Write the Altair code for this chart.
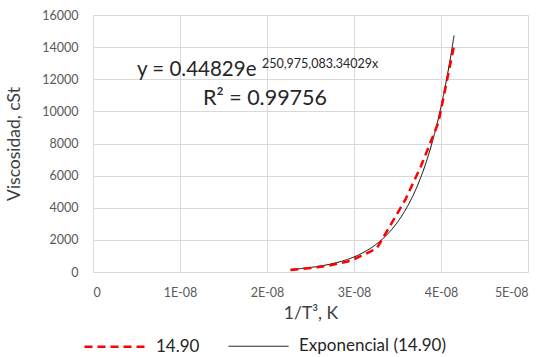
import altair as alt
import pandas as pd

inv_t3 = [2.27e-8, 2.47e-8, 2.70e-8, 2.96e-8, 3.26e-8, 3.59e-8, 3.77e-8, 3.97e-8, 4.15e-8]
visc = [130, 230, 380, 700, 1450, 4500, 6600, 9300, 14100]
series_data = "14.90"
series_trend = "Exponencial (14.90)"
x_ticks = [0, 1e-8, 2e-8, 3e-8, 4e-8, 5e-8]
y_ticks = [0, 2000, 4000, 6000, 8000, 10000, 12000, 14000, 16000]

df = pd.DataFrame({"x": inv_t3, "y": visc, "series": series_data})

FONT = "Lato"
color_scale = alt.Scale(domain=[series_data, series_trend], range=["#ff0000", "#000000"])
dash_scale = alt.Scale(domain=[series_data, series_trend], range=[[8, 5], [1, 0]])
width_scale = alt.Scale(domain=[series_data, series_trend], range=[2.5, 1])

xenc = alt.X("x:Q", scale=alt.Scale(domain=[0, 5e-8], nice=False),
             axis=alt.Axis(values=x_ticks, title="1/T³, K", labelOverlap=False,
                           labelExpr="datum.value == 0 ? '0' : upper(replace(format(datum.value, '.0e'), 'e-', 'E-0'))"))
yenc = alt.Y("y:Q", scale=alt.Scale(domain=[0, 16000], nice=False),
             axis=alt.Axis(values=y_ticks, format="d", title="Viscosidad, cSt", labelOverlap=False))

legend = alt.Legend(title=None, orient="none", legendX=-10, legendY=300, direction="horizontal",
                    symbolType="stroke", symbolSize=3600, labelFontSize=17, labelColor="#262626",
                    labelFont=FONT, columnPadding=26, labelOffset=10, symbolStrokeWidth=2.5)

enc = dict(
    x=xenc, y=yenc,
    color=alt.Color("series:N", scale=color_scale, legend=legend),
    strokeDash=alt.StrokeDash("series:N", scale=dash_scale, legend=legend),
    strokeWidth=alt.StrokeWidth("series:N", scale=width_scale, legend=legend),
)

line = alt.Chart(df).mark_line().encode(**enc)

trend = alt.Chart(df).transform_regression("x", "y", method="exp").transform_calculate(
    series=f"'{series_trend}'"
).mark_line().encode(**enc)

eq_main = alt.Chart().mark_text(align="left", baseline="alphabetic", fontSize=20.5, font=FONT,
                                color="#262626", text="y = 0.44829e").encode(
    x=alt.value(44), y=alt.value(61))
eq_sup = alt.Chart().mark_text(align="left", baseline="alphabetic", fontSize=12.5, font=FONT,
                               color="#262626", text="250,975,083.34029x").encode(
    x=alt.value(169), y=alt.value(53))
eq_r2 = alt.Chart().mark_text(align="left", baseline="alphabetic", fontSize=21.5, font=FONT,
                              color="#262626", text="R² = 0.99756").encode(
    x=alt.value(110), y=alt.value(90))

chart = alt.layer(trend, line, eq_main, eq_sup, eq_r2).properties(
    width=435, height=257,
    autosize=alt.AutoSizeParams(type="none"),
    padding={"left": 93, "top": 15, "right": 19, "bottom": 85},
).configure_view(stroke=None).configure_axis(
    grid=True, gridColor="#d9d9d9", domainColor="#d9d9d9", ticks=False,
    labelFont=FONT, labelFontSize=12.5, labelColor="#595959",
    titleFont=FONT, titleFontSize=17.5, titleFontWeight="normal", titleColor="#404040",
).configure_axisX(labelPadding=14, titlePadding=6).configure_axisY(labelPadding=15, titlePadding=18)

chart.save("out.html", embed_options={"renderer": "svg", "actions": False})
